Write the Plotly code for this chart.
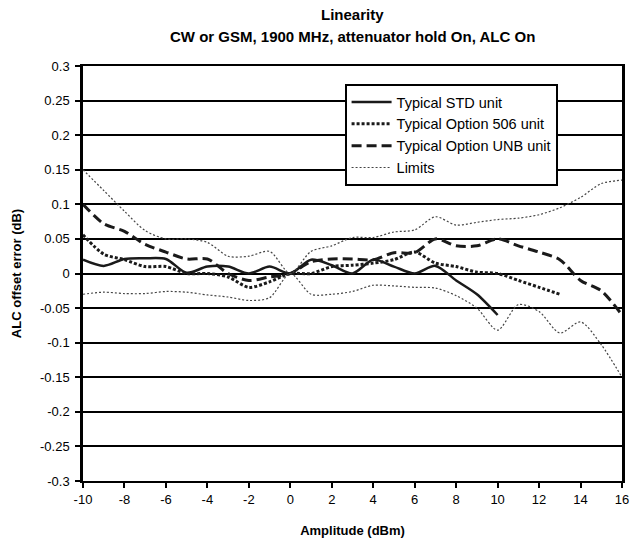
import plotly.graph_objects as go

x_std = list(range(-10, 11))
y_std = [0.02, 0.011, 0.021, 0.022, 0.021, 0.001, 0.01, 0.01, 0.0, 0.01, 0.0,
         0.02, 0.012, 0.0, 0.02, 0.01, 0.0, 0.011, -0.01, -0.03, -0.06]

x_506 = list(range(-10, 14))
y_506 = [0.056, 0.028, 0.02, 0.01, 0.01, 0.0, 0.0, -0.005, -0.02, -0.012, 0.0,
         0.0, 0.01, 0.012, 0.015, 0.02, 0.031, 0.015, 0.01, 0.002, 0.0, -0.01, -0.02, -0.03]

x_unb = list(range(-10, 17))
y_unb = [0.1, 0.072, 0.061, 0.042, 0.031, 0.021, 0.021, 0.0, -0.01, -0.005, 0.0,
         0.017, 0.021, 0.021, 0.02, 0.03, 0.03, 0.05, 0.04, 0.04, 0.05, 0.04, 0.031,
         0.02, -0.01, -0.025, -0.06]

x_lim = list(range(-10, 17))
y_lim_hi = [0.15, 0.12, 0.09, 0.062, 0.05, 0.05, 0.045, 0.025, 0.025, 0.032, 0.0,
            0.032, 0.04, 0.052, 0.052, 0.06, 0.063, 0.082, 0.07, 0.074, 0.078, 0.08,
            0.085, 0.095, 0.11, 0.13, 0.135]
y_lim_lo = [-0.03, -0.027, -0.029, -0.029, -0.026, -0.027, -0.031, -0.034, -0.039,
            -0.035, 0.0, -0.03, -0.03, -0.026, -0.017, -0.018, -0.02, -0.021, -0.032,
            -0.05, -0.082, -0.045, -0.055, -0.086, -0.07, -0.103, -0.15]

y_ticks = [-0.3, -0.25, -0.2, -0.15, -0.1, -0.05, 0, 0.05, 0.1, 0.15, 0.2, 0.25, 0.3]
y_ticktext = ["-0.3", "-0.25", "-0.2", "-0.15", "-0.1", "-0.05", "0", "0.05", "0.1",
              "0.15", "0.2", "0.25", "0.3"]
x_ticks = list(range(-10, 17, 2))
x_ticktext = [str(v) for v in x_ticks]

title_lines = ["Linearity", "CW or GSM, 1900 MHz, attenuator hold On, ALC On"]

FONT = "Liberation Sans, Arial, sans-serif"

fig = go.Figure()
fig.add_trace(go.Scatter(x=x_std, y=y_std, mode="lines", name="Typical STD unit",
                         line=dict(color="#1a1a1a", width=2.5, shape="spline", smoothing=0.8)))
fig.add_trace(go.Scatter(x=x_506, y=y_506, mode="lines", name="Typical Option 506 unit",
                         line=dict(color="#1a1a1a", width=3, dash="3px,2px", shape="spline", smoothing=0.8)))
fig.add_trace(go.Scatter(x=x_unb, y=y_unb, mode="lines", name="Typical Option UNB unit",
                         line=dict(color="#1a1a1a", width=3, dash="10px,5px", shape="spline", smoothing=0.8)))
fig.add_trace(go.Scatter(x=x_lim, y=y_lim_hi, mode="lines", name="Limits",
                         line=dict(color="#444444", width=1.2, dash="2px,2px", shape="spline", smoothing=0.8)))
fig.add_trace(go.Scatter(x=x_lim, y=y_lim_lo, mode="lines", name="Limits", showlegend=False,
                         line=dict(color="#444444", width=1.2, dash="2px,2px", shape="spline", smoothing=0.8)))

fig.add_annotation(text="<b>%s</b>" % title_lines[0], xref="paper", yref="paper",
                   x=0.5, y=1.1229, xanchor="center", yanchor="middle", showarrow=False,
                   font=dict(family=FONT, size=15, color="black"))
fig.add_annotation(text="<b>%s</b>" % title_lines[1], xref="paper", yref="paper",
                   x=0.5, y=1.0699, xanchor="center", yanchor="middle", showarrow=False,
                   font=dict(family=FONT, size=15, color="black"))

fig.update_layout(
    width=637, height=544,
    margin=dict(l=83, r=8, t=66, b=63),
    paper_bgcolor="white", plot_bgcolor="white",
    font=dict(family=FONT, size=13, color="black"),
    showlegend=True,
    legend=dict(x=0.4853, y=0.9566, xanchor="left", yanchor="top",
                bgcolor="white", bordercolor="black", borderwidth=2,
                font=dict(family=FONT, size=14.5, color="black"),
                tracegroupgap=0, itemwidth=40),
    xaxis=dict(range=[-10, 16], tickvals=x_ticks, ticktext=x_ticktext,
               showgrid=False, zeroline=False,
               showline=True, linecolor="black", linewidth=2, mirror=True,
               ticks="outside", ticklen=5, tickwidth=1.5, tickcolor="black",
               tickfont=dict(family=FONT, size=13),
               title=dict(text="<b>Amplitude (dBm)</b>", standoff=20,
                          font=dict(family=FONT, size=13))),
    yaxis=dict(range=[-0.3, 0.3], tickvals=y_ticks, ticktext=y_ticktext,
               showgrid=True, gridcolor="black", gridwidth=1.5, zeroline=False,
               showline=True, linecolor="black", linewidth=2.5, mirror=True,
               ticks="outside", ticklen=5, tickwidth=2, tickcolor="black",
               ticklabelstandoff=3,
               tickfont=dict(family=FONT, size=13),
               title=dict(text="<b>ALC offset error (dB)</b>", standoff=16,
                          font=dict(family=FONT, size=13))),
)

fig.write_html("out.html", config={"displayModeBar": False},
               post_script="document.body.style.margin='0';")
